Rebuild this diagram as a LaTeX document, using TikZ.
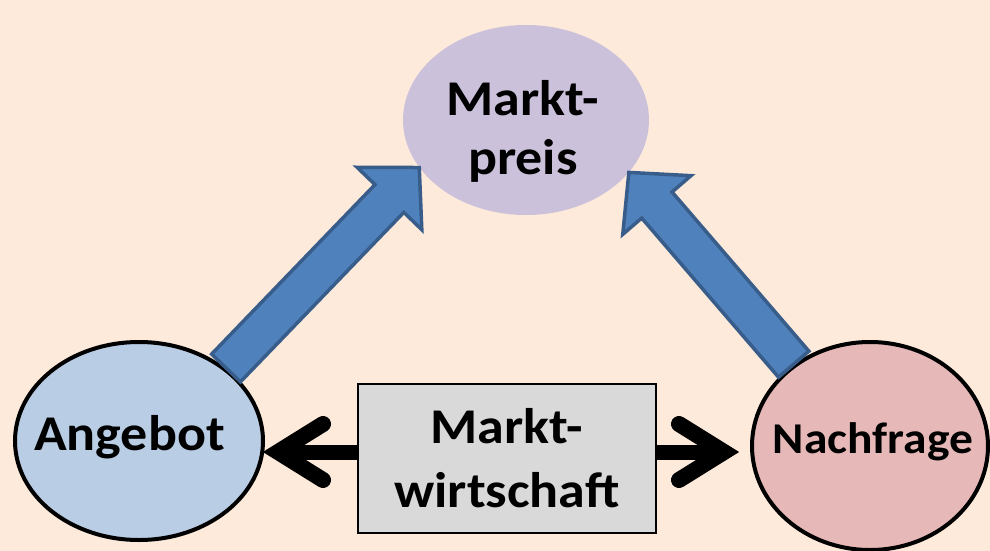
\documentclass[tikz,border=0pt]{standalone}
\usepackage{graphicx}
\usepackage{fontspec}
\setmainfont{Carlito}
\usetikzlibrary{calc,shapes.geometric}
\definecolor{bgc}{HTML}{FDEADA}
\definecolor{lav}{HTML}{CCC1DA}
\definecolor{angc}{HTML}{B9CDE5}
\definecolor{nachc}{HTML}{E6B9B8}
\definecolor{boxc}{HTML}{D9D9D9}
\definecolor{arrfill}{HTML}{4F81BD}
\definecolor{arrdraw}{HTML}{385D8A}
\newcommand{\wideword}[1]{\scalebox{1.08}[1]{#1}}
\tikzset{
  blob/.style={ellipse, inner sep=0pt},
  ringed/.style={blob, draw=black, line width=4pt},
  lbl/.style={font=\bfseries\fontsize{50}{59}\selectfont, inner sep=0pt, align=center},
  fatarr/.style={fill=arrfill, draw=arrdraw, line width=3.5pt, line join=miter},
  shaft/.style={line width=15pt, draw=black},
  chev/.style={line width=16pt, draw=black, line cap=round, line join=miter},
}
\newcommand{\fatarrow}[2]{%
  \coordinate (nk) at ($(#2)!43pt!(#1)$);
  \draw[fatarr] ($(#1)!20pt!90:(#2)$) -- ($(nk)!20pt!-90:(#1)$) -- ($(nk)!45pt!-90:(#1)$)
    -- (#2) -- ($(nk)!45pt!90:(#1)$) -- ($(nk)!20pt!90:(#1)$) -- ($(#1)!20pt!-90:(#2)$) -- cycle;}
\begin{document}
\begin{tikzpicture}[x=1pt,y=-1pt]
\fill[bgc] (0,0) rectangle (990,551);
\useasboundingbox (0,0) rectangle (990,551);
% ellipses
\node[blob, fill=lav, minimum width=246pt, minimum height=190pt] (preis) at (526,120) {};
\node[ringed, fill=angc, minimum width=248pt, minimum height=198pt] (ang) at (139,441) {};
\node[ringed, fill=nachc, minimum width=236pt, minimum height=208pt] (nach) at (870,446) {};
% blue arrows
\coordinate (t1) at (ang.40);
\coordinate (p1) at (preis.204.5);
\coordinate (t2) at (nach.133);
\coordinate (p2) at (preis.333.4);
\fatarrow{t1}{p1}
\fatarrow{t2}{p2}
% box
\node[draw=black, line width=2pt, fill=boxc, minimum width=298pt, minimum height=149pt, inner sep=0pt,
      font=\bfseries\fontsize{50}{64}\selectfont, align=center] (box) at (507,458.5)
      {\wideword{Markt-}\\\wideword{wirtschaft}};
% black arrows
\coordinate (lt) at (263,452);
\coordinate (rt) at (739,452);
\draw[shaft] (box.west |- lt) -- ($(lt)+(20,0)$);
\draw[chev] ($(lt)+(60,-28)$) -- ($(lt)+(15,0)$) -- ($(lt)+(60,28)$);
\draw[shaft] (box.east |- rt) -- ($(rt)+(-20,0)$);
\draw[chev] ($(rt)+(-60,-28)$) -- ($(rt)+(-15,0)$) -- ($(rt)+(-60,28)$);
% labels
\node[lbl] (preistxt) at (523,131) {\wideword{Markt-}\\\wideword{preis}};
\node[lbl, anchor=base] (angtxt) at (129.5,450) {\wideword{Angebot}};
\node[lbl, anchor=base, font=\bfseries\fontsize{44}{52}\selectfont] (nachtxt) at (873,453) {\wideword{Nachfrage}};
\end{tikzpicture}
\end{document}
